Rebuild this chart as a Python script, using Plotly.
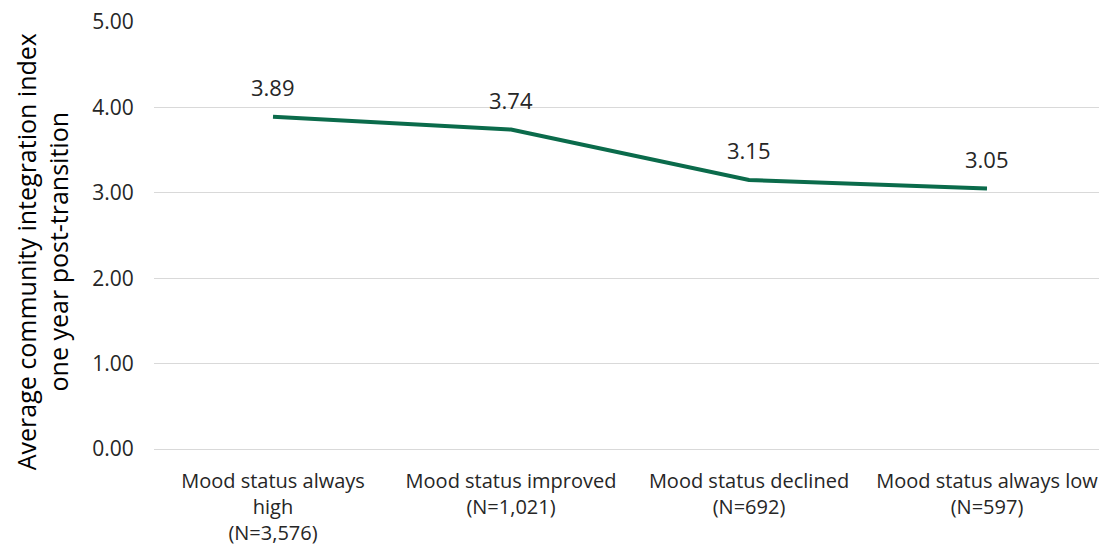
import plotly.graph_objects as go

categories = ["Mood status always<br>high<br>(N=3,576)", "Mood status improved<br>(N=1,021)",
              "Mood status declined<br>(N=692)", "Mood status always low<br>(N=597)"]
values = [3.89, 3.74, 3.15, 3.05]
y_ticks = [0, 1, 2, 3, 4, 5]
y_title = "Average community integration index<br>one year post-transition"

FONT = "Open Sans, sans-serif"

fig = go.Figure()
fig.add_trace(go.Scatter(x=categories, y=values, mode="lines",
                         line=dict(color="#0B6B4B", width=4), hoverinfo="skip"))
for c, v in zip(categories, values):
    fig.add_annotation(x=c, y=v, text=f"{v:.2f}", showarrow=False, yshift=30,
                       font=dict(family=FONT, size=22, color="#262626"))

fig.add_annotation(xref="paper", yref="paper", x=-0.1175, y=0.461, text=y_title,
                   textangle=-90, showarrow=False, xanchor="center", yanchor="middle",
                   font=dict(family=FONT, size=25, color="#000000"))

fig.update_layout(
    width=1099, height=540,
    margin=dict(l=146, r=1, t=14, b=99),
    paper_bgcolor="white", plot_bgcolor="white",
    showlegend=False,
    font=dict(family=FONT, size=21, color="#404040"),
)
fig.update_xaxes(type="category", range=[-0.5, 3.5], showgrid=False, showline=False,
                 ticks="outside", ticklen=14, tickcolor="rgba(0,0,0,0)",
                 automargin=False, ticklabeloverflow="allow",
                 tickfont=dict(family=FONT, size=20, color="#262626"))
fig.update_yaxes(range=[0, 5.0001], tickvals=y_ticks, tickformat=".2f",
                 showgrid=True, gridcolor="#D9D9D9", gridwidth=1,
                 zeroline=True, zerolinecolor="#D9D9D9", zerolinewidth=1,
                 ticks="outside", ticklen=15, tickcolor="rgba(0,0,0,0)",
                 showline=False, automargin=False, ticklabeloverflow="allow",
                 tickfont=dict(family=FONT, size=21, color="#262626"))

fig.write_html("out.html")
